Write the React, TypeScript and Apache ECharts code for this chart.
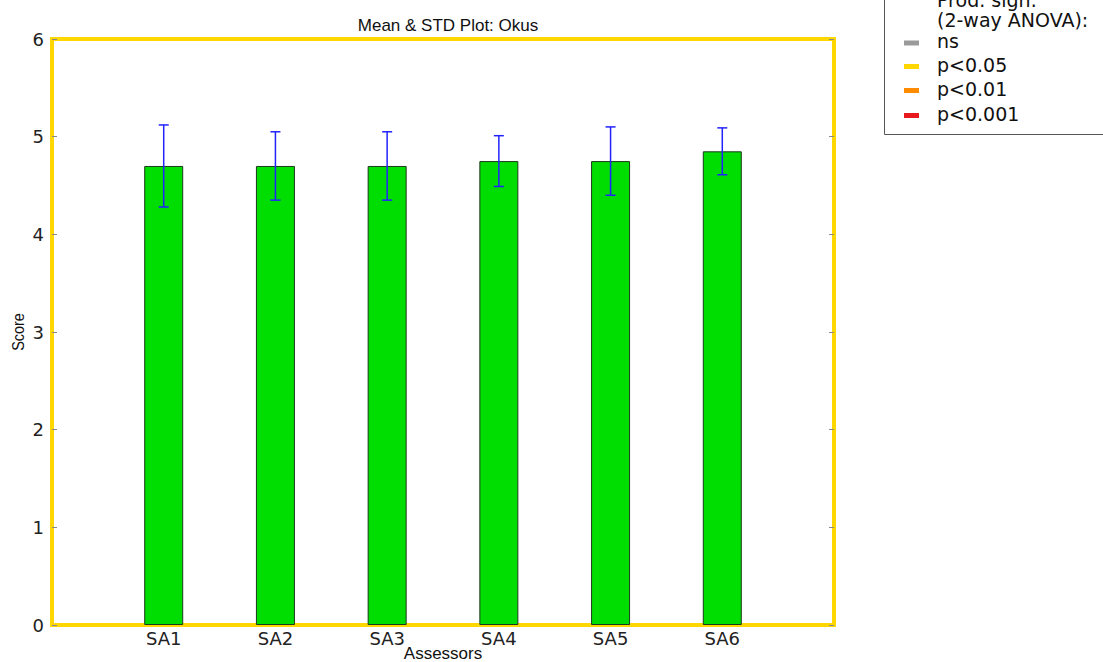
import React, { useEffect, useRef } from "react";
import * as echarts from "echarts";

const categories = ["", "SA1", "SA2", "SA3", "SA4", "SA5", "SA6", ""];
const means = [4.7, 4.7, 4.7, 4.75, 4.75, 4.85];
const stds = [0.42, 0.35, 0.35, 0.26, 0.35, 0.24];
const yTicks = [0, 1, 2, 3, 4, 5, 6];
const legendLabels = ["ns", "p<0.05", "p<0.01", "p<0.001"];
const legendColors = ["#9a9a9a", "#FFD700", "#FF8C00", "#E8191C"];

export default function App() {
  const ref = useRef<HTMLDivElement>(null);
  useEffect(() => {
    if (!ref.current) return;
    const chart = echarts.init(ref.current, null, { renderer: "svg" });
    const barData: (number | string)[] = ["-", ...means, "-"];
    const errData = means.map((m, i) => [i + 1, m - stds[i], m + stds[i]]);
    const legendFont = "19px 'DejaVu Sans'";
    const legendGraphics: any[] = [
      {
        type: "rect",
        shape: { x: 884.5, y: -10, width: 240, height: 144.5 },
        style: { fill: "#fff", stroke: "#555", lineWidth: 1 },
      },
      {
        type: "text",
        x: 937,
        y: 0,
        style: { text: "Prod. sign:", font: legendFont, fill: "#111", verticalAlign: "middle" },
      },
      {
        type: "text",
        x: 937,
        y: 20,
        style: { text: "(2-way ANOVA):", font: legendFont, fill: "#111", verticalAlign: "middle" },
      },
      {
        type: "text",
        x: 18,
        y: 332,
        rotation: Math.PI / 2,
        scaleX: 0.85,
        style: {
          text: "Score",
          font: "17px 'Liberation Sans'",
          fill: "#111",
          align: "center",
          verticalAlign: "middle",
        },
      },
      {
        type: "text",
        x: 443,
        y: 653,
        style: {
          text: "Assessors",
          font: "17px 'Liberation Sans'",
          fill: "#111",
          align: "center",
          verticalAlign: "middle",
        },
      },
    ];
    const itemYs = [43, 66.5, 90.5, 115.5];
    legendLabels.forEach((lab, i) => {
      legendGraphics.push({
        type: "rect",
        shape: { x: 904, y: itemYs[i] - 2.5, width: 15, height: 5 },
        style: { fill: legendColors[i] },
      });
      legendGraphics.push({
        type: "text",
        x: 937,
        y: itemYs[i] - 2,
        style: { text: lab, font: legendFont, fill: "#111", verticalAlign: "middle" },
      });
    });

    chart.setOption({
      animation: false,
      title: {
        text: "Mean & STD Plot: Okus",
        left: 443,
        top: 12,
        textAlign: "center",
        textStyle: { fontFamily: "Liberation Sans", fontSize: 17, fontWeight: "normal", color: "#111" },
      },
      grid: {
        left: 52,
        top: 39,
        width: 782,
        height: 586,
        outerBoundsMode: "none",
        containLabel: false,
        show: true,
        borderColor: "#FFD700",
        borderWidth: 4,
        backgroundColor: "transparent",
      },
      xAxis: {
        type: "category",
        data: categories,
        boundaryGap: false,
        axisLine: { show: false },
        axisTick: {
          show: true,
          inside: true,
          length: 4,
          interval: (idx: number, val: string) => val !== "",
          lineStyle: { color: "#333" },
        },
        axisLabel: {
          fontFamily: "DejaVu Sans",
          fontSize: 18,
          color: "#222",
          margin: 4,
          interval: 0,
        },
        splitLine: { show: false },
      },
      yAxis: [
        {
          type: "value",
          min: 0,
          max: 6,
          interval: 1,
          axisLine: { show: false },
          axisTick: { show: true, inside: true, length: 5, lineStyle: { color: "#888" } },
          axisLabel: {
            fontFamily: "DejaVu Sans",
            fontSize: 18,
            color: "#222",
            margin: 8,
            formatter: (v: number) => (yTicks.includes(v) ? String(v) : ""),
          },
          splitLine: { show: false },
        },
        {
          type: "value",
          min: 0,
          max: 6,
          interval: 1,
          position: "right",
          axisLine: { show: false },
          axisTick: { show: true, inside: true, length: 5, lineStyle: { color: "#888" } },
          axisLabel: { show: false },
          splitLine: { show: false },
        },
      ],
      series: [
        {
          type: "bar",
          data: barData,
          barWidth: 39,
          itemStyle: { color: "#00DD00", borderColor: "#1a3a1a", borderWidth: 1 },
          z: 2,
        },
        {
          type: "custom",
          data: errData,
          z: 5,
          renderItem: (params: any, api: any) => {
            const x = api.value(0);
            const lo = api.coord([x, api.value(1)]);
            const hi = api.coord([x, api.value(2)]);
            const cap = 5;
            const style = { stroke: "#2222ff", lineWidth: 1.5 };
            return {
              type: "group",
              children: [
                { type: "line", shape: { x1: lo[0], y1: lo[1], x2: hi[0], y2: hi[1] }, style },
                { type: "line", shape: { x1: lo[0] - cap, y1: lo[1], x2: lo[0] + cap, y2: lo[1] }, style },
                { type: "line", shape: { x1: hi[0] - cap, y1: hi[1], x2: hi[0] + cap, y2: hi[1] }, style },
              ],
            };
          },
        },
      ],
      graphic: legendGraphics,
    });
    return () => chart.dispose();
  }, []);
  return (
    <div
      ref={ref}
      style={{ position: "absolute", left: 0, top: 0, width: 1103, height: 662, background: "#fff" }}
    />
  );
}
